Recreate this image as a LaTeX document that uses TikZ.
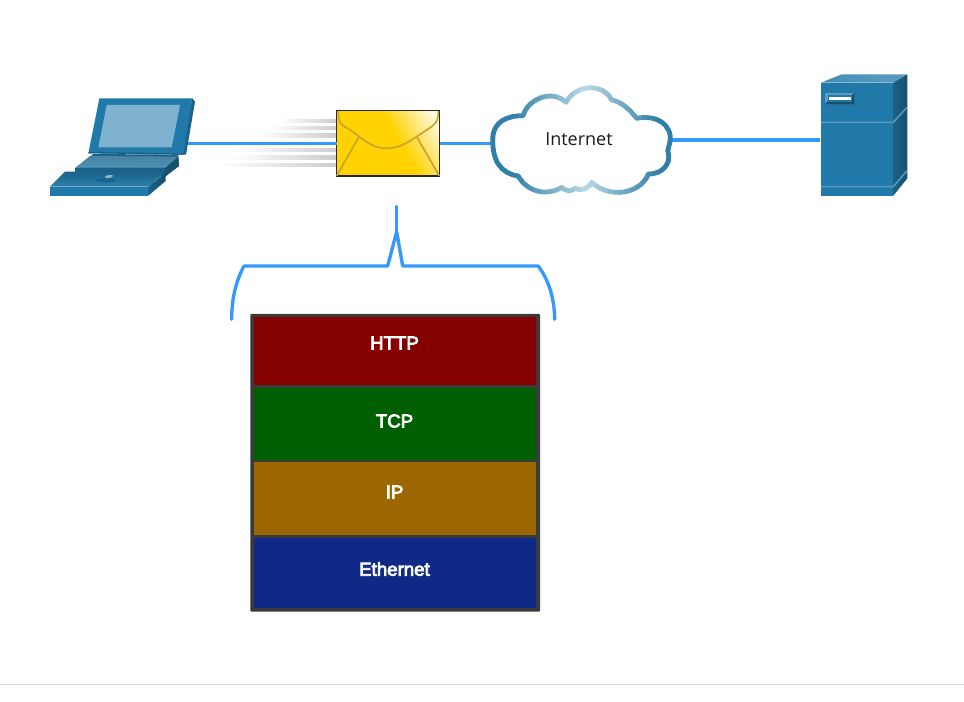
\documentclass[tikz,border=0pt]{standalone}
\usepackage{fontspec}
\setmainfont{Open Sans}
\newfontfamily\layerfont[FakeBold=4]{Liberation Sans}
\usetikzlibrary{calc}
\definecolor{wire}{HTML}{3399FF}
\definecolor{ciscoblue}{HTML}{2079A8}
\definecolor{ciscodark}{HTML}{1B6288}
\definecolor{ciscodeep}{HTML}{15506F}
\definecolor{ciscolight}{HTML}{5A9CC0}
\definecolor{screenblue}{HTML}{7FB2CF}
\definecolor{cloudedge}{HTML}{2F7FA8}
\definecolor{cloudmid}{HTML}{BAD8E6}
\definecolor{flap}{HTML}{C9A52E}
\definecolor{mailyellow}{HTML}{FFD200}
\definecolor{mailpale}{HTML}{FFF8DC}
\definecolor{stackedge}{HTML}{3A3A3A}
\definecolor{httpred}{HTML}{850000}
\definecolor{tcpgreen}{HTML}{005F00}
\definecolor{ipbrown}{HTML}{9C6600}
\definecolor{ethblue}{HTML}{0F2987}
\pgfdeclarehorizontalshading{envgrad}{100bp}{color(0bp)=(mailyellow); color(56bp)=(mailyellow); color(80bp)=(mailpale); color(100bp)=(mailpale)}
\tikzset{
  wireline/.style={draw=wire,line width=2.5pt},
  layerbox/.style={minimum width=211.5pt,inner sep=0pt,outer sep=0pt},
  layertext/.style={text=white,font=\layerfont\fontsize{14pt}{16pt}\selectfont,inner sep=0pt},
  streak/.style={left color=white,right color=black!20,draw=none},
  mailbox/.style={draw=black!85,line width=.9pt,shading=envgrad,shading angle=30,minimum width=77.2pt,minimum height=49pt,inner sep=0pt},
  flapline/.style={draw=flap,line width=1.3pt,line cap=round},
}
\newcommand{\cloudshape}{(38,195) .. controls (38,140) and (80,122) .. (130,122)
  .. controls (140,75) and (215,40) .. (258,82)
  .. controls (290,25) and (370,25) .. (395,75)
  .. controls (425,80) and (450,105) .. (470,130)
  .. controls (530,118) and (578,150) .. (570,200)
  .. controls (568,215) and (560,225) .. (565,235)
  .. controls (572,265) and (550,297) .. (505,297)
  .. controls (480,360) and (385,370) .. (335,322)
  .. controls (322,345) and (302,348) .. (285,340)
  .. controls (272,352) and (258,348) .. (245,337)
  .. controls (200,365) and (140,350) .. (115,303)
  .. controls (60,295) and (38,255) .. (38,195) -- cycle}
\begin{document}
\begin{tikzpicture}[x=.75pt,y=-.75pt]
\useasboundingbox (0,0) rectangle (964,702);
\fill[white] (0,0) rectangle (964,702);
% rule
\coordinate (ruleL) at (0,684); \coordinate (ruleR) at (964,684);
\draw[black!14,line width=.75pt] (ruleL) -- (ruleR);
% streaks
\foreach \l/\y in {278/121.3,270/128.3,258/135.7,238/150.3,230/157.7,218/165}
  \shade[streak] (\l,\y-1.7) rectangle (337,\y+1.7);
% ports
\coordinate (pcport) at (187,143.3);
\coordinate (cloudW) at (492.5,143.3);
\coordinate (cloudE) at (672,140);
\coordinate (srvport) at (820,140);
\node[mailbox] (mail) at (387.8,143.3) {};
\draw[wireline] (pcport) -- ($(mail.west)+(1,0)$);
\draw[wireline] (mail.east) -- (cloudW);
\draw[wireline] (cloudE) -- (srvport);
% envelope flap
\begin{scope}[shift={(210,90)},x=.25pt,y=-.25pt]
  \draw[flapline] (385,65) .. controls (385,115) and (400,100) .. (447,140)
     .. controls (490,172) and (510,176) .. (535,175)
     .. controls (565,174) and (590,160) .. (620,140)
     .. controls (670,105) and (685,105) .. (685,65);
  \draw[flapline] (447,140) -- (381,256);
  \draw[flapline] (620,140) -- (687,256);
\end{scope}
% laptop
\begin{scope}[shift={(30,80)},x=.25pt,y=-.25pt]
  \fill[ciscodark] (487,55) -- (495,65) -- (468,224) -- (455,224) -- cycle;
  \fill[ciscoblue] (208,55) -- (487,55) -- (460,224) -- (175,220) -- cycle;
  \fill[ciscodark] (176,216) -- (462,220) -- (460,224) -- (175,220) -- cycle;
  \fill[screenblue] (230,75) -- (450,75) -- (425,202) -- (205,202) -- cycle;
  \fill[ciscodark] (190,222) -- (445,224) -- (447,258) -- (405,290) -- (135,277) -- (135,265) -- cycle;
  \shade[top color=ciscolight!85!black,bottom color=ciscolight] (180,228) -- (445,230) -- (405,265) -- (135,265) -- cycle;
  \foreach \i in {0,...,6} \draw[ciscodark!45!ciscolight,line width=.2pt] ($(175,233)!\i/6!(140,262)$) -- ($(440,235)!\i/6!(403,262)$);
  \foreach \i in {0,...,24} \draw[ciscodark!45!ciscolight,line width=.2pt] ($(180,231)!\i/24!(440,233)$) -- ($(137,264)!\i/24!(403,264)$);
  \fill[ciscodark] (135,265) -- (405,265) -- (405,277) -- (135,277) -- cycle;
  \fill[ciscodeep] (445,230) -- (447,258) -- (405,290) -- (405,265) -- cycle;
  \shade[top color=ciscodark,bottom color=ciscoblue!80!ciscolight] (105,275) -- (407,275) -- (355,320) -- (60,320) -- cycle;
  \fill[ciscoblue] (60,320) rectangle (355,347);
  \shade[left color=ciscodark,right color=ciscodeep] (355,320) -- (407,277) -- (407,303) -- (355,347) -- cycle;
  \fill[ciscodark] (195,300) .. controls (215,293) and (250,295) .. (262,302) .. controls (240,310) and (205,308) .. (195,300) -- cycle;
  \fill[ciscolight!70!white] (224,291) .. controls (230,284) and (245,284) .. (250,287) .. controls (245,295) and (230,296) .. (224,291) -- cycle;
\end{scope}
% cloud
\begin{scope}[shift={(480,75)},x=.25pt,y=-.25pt]
  \fill[white] \cloudshape;
  \foreach \s in {0,...,35}{
    \pgfmathsetmacro{\mixv}{100*min(1,abs((\s+.5)-18)/13)}
    \begin{scope}
      \clip (10+\s*17,0) rectangle (10+\s*17+18.5,400);
      \draw[draw=cloudedge!\mixv!cloudmid,line width=3.6pt,line join=round] \cloudshape;
    \end{scope}
  }
\end{scope}
\node[inner sep=0pt,font=\fontsize{13.5pt}{16pt}\selectfont,text=black!90] (cloud) at (579,139) {Internet};
% server
\begin{scope}[shift={(800,65)},x=.25pt,y=-.25pt]
  \shade[left color=ciscolight!60!ciscoblue,right color=ciscolight] (63,53) -- (125,28) -- (322,28) -- (280,53) -- cycle;
  \fill[ciscoblue] (63,53) rectangle (280,392);
  \shade[left color=ciscodark,right color=ciscodeep] (280,53) -- (322,28) -- (322,340) -- (280,392) -- cycle;
  \draw[ciscolight,line width=1.1pt] (63,172) -- (280,172) -- (320,128);
  \draw[ciscolight,line width=1.1pt] (63,365) -- (280,365) -- (320,318);
  \fill[ciscolight] (75,83) rectangle (163,119);
  \fill[ciscodeep] (75,119) -- (163,119) -- (163,83) -- (155,91) -- (155,108) -- (83,108) -- cycle;
  \fill[ciscoblue] (83,91) rectangle (155,110);
  \fill[white] (88,96) rectangle (152,105);
\end{scope}
% brace
\coordinate (braceTop) at (396.5,206.5);
\coordinate (bracePeak) at (396.5,232);
\draw[wireline,line cap=round] (braceTop) -- (bracePeak);
\begin{scope}[shift={(220,200)},x=.25pt,y=-.25pt]
  \draw[draw=wire,line width=2.5pt,line cap=round,line join=round] (35,358) .. controls (35,290) and (50,240) .. (72,198)
    -- (503,198) -- (530,95) -- (548,198) -- (955,198)
    .. controls (985,240) and (1003,290) .. (1004,358);
\end{scope}
% stack
\fill[stackedge,rounded corners=.6pt] (250.3,314) rectangle (540,611.5);
\node[layerbox,fill=httpred,minimum height=51pt] (http) at (395,351) {};
\node[layerbox,fill=tcpgreen,minimum height=53.5pt] (tcp) at (395,424) {};
\node[layerbox,fill=ipbrown,minimum height=55pt] (ip) at (395,498.5) {};
\node[layerbox,fill=ethblue,minimum height=52.5pt] (eth) at (395,573) {};
\node[layertext] (httpt) at (394.5,343) {HTTP};
\node[layertext] (tcpt) at (394.5,421) {TCP};
\node[layertext] (ipt) at (394.5,492) {IP};
\node[layertext] (etht) at (394.5,569) {Ethernet};
\end{tikzpicture}
\end{document}
